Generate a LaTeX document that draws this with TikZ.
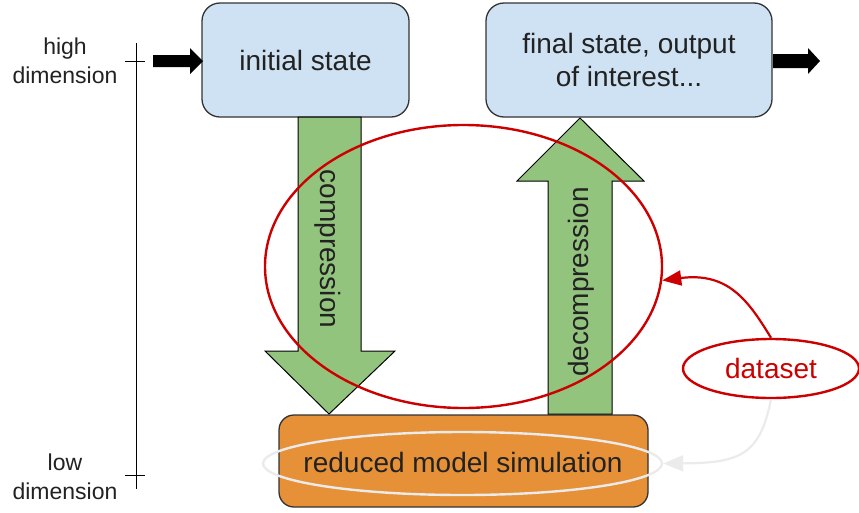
\documentclass[tikz,border=0pt]{standalone}
\usepackage{fontspec}
\setmainfont{Liberation Sans}
\usetikzlibrary{shapes.geometric,arrows.meta}
\definecolor{boxblue}{HTML}{CFE2F3}
\definecolor{boxorange}{HTML}{E69138}
\definecolor{arrgreen}{HTML}{93C47D}
\definecolor{redline}{HTML}{CC0000}
\definecolor{txt}{HTML}{222222}
\definecolor{paleline}{HTML}{EBEBEB}
\begin{document}
\begin{tikzpicture}[x=1pt,y=-1pt,
  bigtext/.style={font=\fontsize{28}{33}\selectfont, text=txt},
  sidetext/.style={font=\fontsize{23}{29}\selectfont, text=txt, align=center},
  statebox/.style={draw=black!80, line width=1.3pt, rounded corners=18pt, fill=boxblue, inner sep=0pt},
  blockarrow/.style={draw=black, line width=1pt, fill=arrgreen},
  redell/.style={ellipse, draw=redline, line width=2.4pt, inner sep=0pt},
]
\useasboundingbox (0,0) rectangle (859,512);

% scale
\node[sidetext] (hi) at (65,61) {high\\dimension};
\node[sidetext] (lo) at (65,477) {low\\dimension};
\coordinate (stop) at (136,43);
\coordinate (sbot) at (136,489);
\draw[line width=1pt] (stop) -- (sbot);
\draw[line width=1pt] (125,61) -- (145,61);
\draw[line width=1pt] (125,475) -- (145,475);

% boxes
\node[statebox, minimum width=207pt, minimum height=114pt] (init) at (305.5,60) {};
\node[bigtext] at (init.center) {initial state};
\node[statebox, minimum width=286pt, minimum height=114pt] (final) at (629,60) {};
\node[bigtext, align=center] at (final.center) {final state, output\\of interest...};

% input / output arrows
\fill[black] (153,55) -- (190,55) -- (190,48) -- (203,61) -- (190,74) -- (190,67) -- (153,67) -- cycle;
\fill[black] (773,54) -- (808,54) -- (808,48) -- (820,61) -- (808,74) -- (808,68) -- (773,68) -- cycle;

% reduced model box
\node[statebox, fill=boxorange, rounded corners=15pt, minimum width=369pt, minimum height=92pt] (red) at (463.5,461) {};

% green arrows
\draw[blockarrow] (298,117) -- (361,117) -- (361,351) -- (395,351) -- (329,414) -- (265,351) -- (298,351) -- cycle;
\draw[blockarrow] (548,414) -- (612,414) -- (612,181) -- (644,181) -- (580,118) -- (517,181) -- (548,181) -- cycle;
\node[bigtext, rotate=-90] (comp) at (328,249) {compression};
\node[bigtext, rotate=90] (decomp) at (581,282) {decompression};

% red ellipse
\node[redell, minimum width=397pt, minimum height=283pt] (ell) at (463.5,266.5) {};

% pale ellipse around reduced text
\node[ellipse, draw=paleline, line width=2.4pt, minimum width=399pt, minimum height=63pt, inner sep=0pt] (pale) at (462.5,463.5) {};
\node[bigtext] (redtxt) at (463,462) {reduced model simulation};

% dataset
\node[redell, minimum width=176pt, minimum height=59pt, font=\fontsize{28}{33}\selectfont, text=redline] (ds) at (771,368.5) {dataset};

\draw[redline, line width=2.2pt, -{Triangle[length=19pt,width=15pt]}]
  (ds.north) .. controls (748,300) and (728,272) .. (ell.-4);
\draw[paleline, line width=2.2pt, -{Triangle[length=20pt,width=16pt]}]
  (ds.south) .. controls (760,455) and (740,463) .. (pale.east);
\end{tikzpicture}
\end{document}
